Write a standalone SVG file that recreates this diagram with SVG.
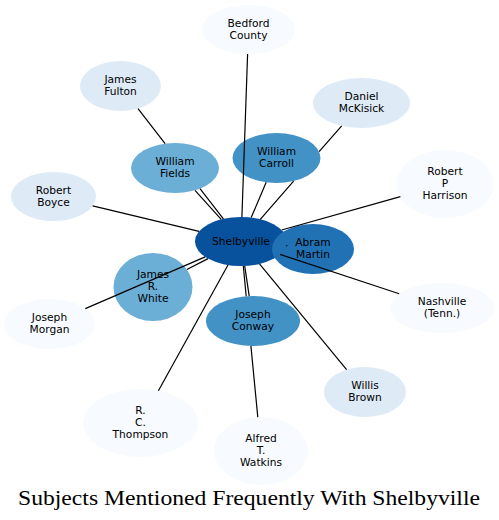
<svg xmlns="http://www.w3.org/2000/svg" width="499" height="520" viewBox="0 0 499 520">
<style>
.n text{font-family:"DejaVu Sans","Noto Sans",sans-serif;font-size:10.67px;fill:#000;text-anchor:middle}
.c0{fill:#f7fbff}.c1{fill:#deebf7}.c3{fill:#6baed6}.c4{fill:#4292c6}.c5{fill:#2171b5}.c6{fill:#08519c}
#edges path{fill:none;stroke:#000;stroke-width:1.2}
.title{font-family:"Liberation Serif","Times New Roman",serif;font-size:21px;fill:#000}
</style>
<rect width="499" height="520" fill="#fff"/>
<g id="nodes" class="n">
<g id="bedford"><ellipse class="c0" cx="248.5" cy="29.5" rx="46.5" ry="24.5"/><text x="248.5" y="26.5">Bedford</text><text x="248.5" y="38.5">County</text></g>
<g id="fulton"><ellipse class="c1" cx="120.5" cy="86" rx="40.5" ry="25"/><text x="120.5" y="83">James</text><text x="120.5" y="95">Fulton</text></g>
<g id="mckisick"><ellipse class="c1" cx="361.5" cy="103" rx="48.5" ry="25"/><text x="361.5" y="100">Daniel</text><text x="361.5" y="112">McKisick</text></g>
<g id="harrison"><ellipse class="c0" cx="445" cy="184" rx="48.5" ry="34"/><text x="445" y="175">Robert</text><text x="445" y="187">P</text><text x="445" y="199">Harrison</text></g>
<g id="boyce"><ellipse class="c1" cx="53.5" cy="196.5" rx="42.5" ry="24.5"/><text x="53.5" y="193.5">Robert</text><text x="53.5" y="205.5">Boyce</text></g>
<g id="fields"><ellipse class="c3" cx="175" cy="168" rx="44" ry="25"/><text x="175" y="165">William</text><text x="175" y="177">Fields</text></g>
<g id="carroll"><ellipse class="c4" cx="276.5" cy="158" rx="44" ry="25"/><text x="276.5" y="155">William</text><text x="276.5" y="167">Carroll</text></g>
<g id="shelbyville"><ellipse class="c6" cx="241" cy="241.5" rx="46" ry="24.5"/><text x="241" y="244.5">Shelbyville</text></g>
<g id="martin"><ellipse class="c5" cx="313" cy="249" rx="41" ry="25"/><text x="313" y="246">Abram</text><text x="313" y="258">Martin</text></g>
<g id="white"><ellipse class="c3" cx="153" cy="287" rx="39.5" ry="34"/><text x="153" y="278">James</text><text x="153" y="290">R.</text><text x="153" y="302">White</text></g>
<g id="morgan"><ellipse class="c0" cx="49.5" cy="324" rx="45.5" ry="25"/><text x="49.5" y="321">Joseph</text><text x="49.5" y="333">Morgan</text></g>
<g id="conway"><ellipse class="c4" cx="253" cy="321" rx="47" ry="25"/><text x="253" y="318">Joseph</text><text x="253" y="330">Conway</text></g>
<g id="nashville"><ellipse class="c0" cx="442" cy="308" rx="52" ry="25"/><text x="442" y="305">Nashville</text><text x="442" y="317">(Tenn.)</text></g>
<g id="brown"><ellipse class="c1" cx="365" cy="392" rx="41" ry="25"/><text x="365" y="389">Willis</text><text x="365" y="401">Brown</text></g>
<g id="thompson"><ellipse class="c0" cx="140.5" cy="423" rx="57.5" ry="34"/><text x="140.5" y="414">R.</text><text x="140.5" y="426">C.</text><text x="140.5" y="438">Thompson</text></g>
<g id="watkins"><ellipse class="c0" cx="261" cy="451" rx="47" ry="34"/><text x="261" y="442">Alfred</text><text x="261" y="454">T.</text><text x="261" y="466">Watkins</text></g>
</g>
<g id="edges">
<path d="M247.6,54L241.9,217"/>
<path d="M138,108.6L165.1,143.6M200,188.6L223.4,218.9"/>
<path d="M341.7,125.8L319.1,151.7M293.6,181.1L260.3,219.3"/>
<path d="M400.4,196.6L281.7,230"/>
<path d="M92.7,205.9L199.1,231.4"/>
<path d="M195,190.3L221.2,219.4"/>
<path d="M266.2,182.3L251.2,217.6"/>
<path d="M286.3,245.4L287.3,246.1"/>
<path d="M186.9,269.5L208,258.6"/>
<path d="M85.3,308.6L205.2,256.9"/>
<path d="M244.7,265.9L249.2,296.1"/>
<path d="M243.3,266L246.2,296.3M250.9,345.9L257.8,417.1"/>
<path d="M280.1,254.4L399.2,293.8"/>
<path d="M259.5,263.9L346.6,369.7"/>
<path d="M228,265L158.4,390.7"/>
</g>
<text class="title" x="18" y="505" textLength="462" lengthAdjust="spacingAndGlyphs">Subjects Mentioned Frequently With Shelbyville</text>
</svg>
